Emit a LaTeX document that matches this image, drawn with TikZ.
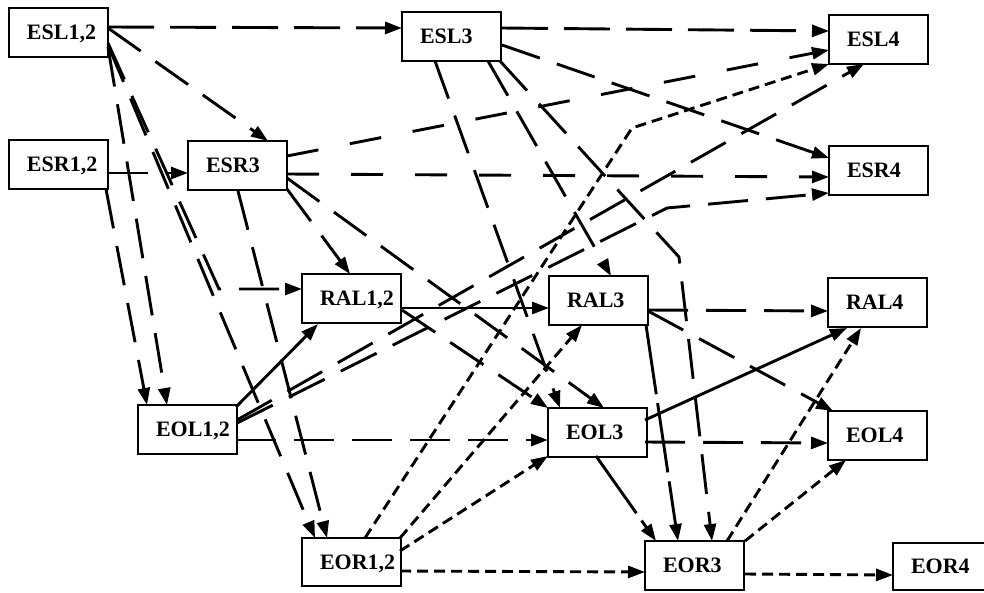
\documentclass[tikz,border=0pt]{standalone}
\usepackage{fontspec}
\setmainfont{Liberation Serif}
\usetikzlibrary{arrows.meta}
\begin{document}
\begin{tikzpicture}[x=1pt,y=-1pt,
  box/.style={draw, line width=2.8pt, anchor=north west, outer sep=0pt,
    minimum width=99pt, minimum height=49pt, inner xsep=18pt, inner ysep=0pt,
    text width=63pt, align=left, text height=14pt, text depth=0pt,
    font=\fontsize{22}{24}\selectfont\bfseries},
  con/.style={line width=2.9pt, -{Triangle[length=17pt,width=12pt]}},
  ld/.style={con, dash pattern=on 40pt off 18pt},
  ldA/.style={con, dash pattern=on 46pt off 16pt},
  ldB/.style={con, dash pattern=on 32pt off 32pt},
  ldC/.style={con, dash pattern=on 70pt off 9pt},
  sd/.style={con, dash pattern=on 11pt off 6pt},
  sol/.style={con}
]
\useasboundingbox (0,0) rectangle (984,592);
% nodes
\node[box] (ESL12) at (9,8) {ESL1,2};
\node[box] (ESR12) at (9,140) {ESR1,2};
\node[box] (ESR3) at (188,141) {ESR3};
\node[box] (ESL3) at (402,12) {ESL3};
\node[box] (ESL4) at (829,15) {ESL4};
\node[box] (ESR4) at (829,146) {ESR4};
\node[box] (RAL12) at (302,274) {RAL1,2};
\node[box] (RAL3) at (549,276) {RAL3};
\node[box] (RAL4) at (828,278) {RAL4};
\node[box] (EOL12) at (138,405) {EOL1,2};
\node[box] (EOL3) at (548,408) {EOL3};
\node[box] (EOL4) at (828,411) {EOL4};
\node[box,minimum height=48pt] (EOR12) at (302,538) {EOR1,2};
\node[box] (EOR3) at (645,541) {EOR3};
\node[box,minimum height=47pt] (EOR4) at (893,543) {EOR4};
% bend points
\coordinate (b4) at (219,289);
\coordinate (b17) at (679,257);
\coordinate (b20) at (667,208);
\coordinate (b33) at (632,128);
% connectors
\draw[ldA] ([shift={(99,19)}]ESL12.north west) -- ([shift={(0,16)}]ESL3.north west);
\draw[ld] ([shift={(99,20)}]ESL12.north west) -- ([shift={(80,0)}]ESR3.north west);
\draw[ld] ([shift={(99,39)}]ESL12.north west) -- ([shift={(29,0)}]EOL12.north west);
\draw[ld] ([shift={(99,35)}]ESL12.north west) -- (b4) -- ([shift={(0,15)}]RAL12.north west);
\draw[ld] ([shift={(99,37)}]ESL12.north west) -- ([shift={(13,0)}]EOR12.north west);
\draw[ld] ([shift={(97,49)}]ESR12.north west) -- ([shift={(9,0)}]EOL12.north west);
\draw[ld] ([shift={(99,33)}]ESR12.north west) -- ([shift={(0,32)}]ESR3.north west);
\draw[ldB] ([shift={(99,15)}]ESR3.north west) -- ([shift={(0,35)}]ESL4.north west);
\draw[ldB] ([shift={(99,33)}]ESR3.north west) -- ([shift={(0,31)}]ESR4.north west);
\draw[ld] ([shift={(99,48)}]ESR3.north west) -- ([shift={(48,0)}]RAL12.north west);
\draw[ld] ([shift={(99,37)}]ESR3.north west) -- ([shift={(56,0)}]EOL3.north west);
\draw[ld] ([shift={(50,50)}]ESR3.north west) -- ([shift={(25,0)}]EOR12.north west);
\draw[ldA] ([shift={(100,16)}]ESL3.north west) -- ([shift={(0,16)}]ESL4.north west);
\draw[ld] ([shift={(100,33)}]ESL3.north west) -- ([shift={(0,12)}]ESR4.north west);
\draw[ld] ([shift={(33,49)}]ESL3.north west) -- ([shift={(12,0)}]EOL3.north west);
\draw[ld] ([shift={(86,49)}]ESL3.north west) -- ([shift={(62,0)}]RAL3.north west);
\draw[ld] ([shift={(98,49)}]ESL3.north west) -- (b17) -- ([shift={(67,0)}]EOR3.north west);
\draw[sol] ([shift={(98,2)}]EOL12.north west) -- ([shift={(16,50)}]RAL12.north west);
\draw[ld] ([shift={(99,15)}]EOL12.north west) -- ([shift={(35,49)}]ESL4.north west);
\draw[ld] ([shift={(99,18)}]EOL12.north west) -- (b20) -- ([shift={(0,47)}]ESR4.north west);
\draw[ld] ([shift={(98,35)}]EOL12.north west) -- ([shift={(0,32)}]EOL3.north west);
\draw[sol] ([shift={(100,34)}]RAL12.north west) -- ([shift={(0,32)}]RAL3.north west);
\draw[ld] ([shift={(100,36)}]RAL12.north west) -- ([shift={(0,0)}]EOL3.north west);
\draw[ld] ([shift={(99,34)}]RAL3.north west) -- ([shift={(0,33)}]RAL4.north west);
\draw[ld] ([shift={(99,35)}]RAL3.north west) -- ([shift={(5,0)}]EOL4.north west);
\draw[ldC] ([shift={(97,49)}]RAL3.north west) -- ([shift={(33,0)}]EOR3.north west);
\draw[ld] ([shift={(97,34)}]EOL3.north west) -- ([shift={(0,32)}]EOL4.north west);
\draw[sol] ([shift={(97,12)}]EOL3.north west) -- ([shift={(19,50)}]RAL4.north west);
\draw[ldC] ([shift={(48,48)}]EOL3.north west) -- ([shift={(11,0)}]EOR3.north west);
\draw[sd] ([shift={(98,33)}]EOR12.north west) -- ([shift={(0,31)}]EOR3.north west);
\draw[sd] ([shift={(98,13)}]EOR12.north west) -- ([shift={(0,48)}]EOL3.north west);
\draw[sd] ([shift={(98,0)}]EOR12.north west) -- ([shift={(33,49)}]RAL3.north west);
\draw[sd] ([shift={(63,0)}]EOR12.north west) -- (b33) -- ([shift={(0,49)}]ESL4.north west);
\draw[sd] ([shift={(100,33)}]EOR3.north west) -- ([shift={(0,32)}]EOR4.north west);
\draw[sd] ([shift={(100,0)}]EOR3.north west) -- ([shift={(18,49)}]EOL4.north west);
\draw[sd] ([shift={(82,0)}]EOR3.north west) -- ([shift={(33,50)}]RAL4.north west);
\end{tikzpicture}
\end{document}
